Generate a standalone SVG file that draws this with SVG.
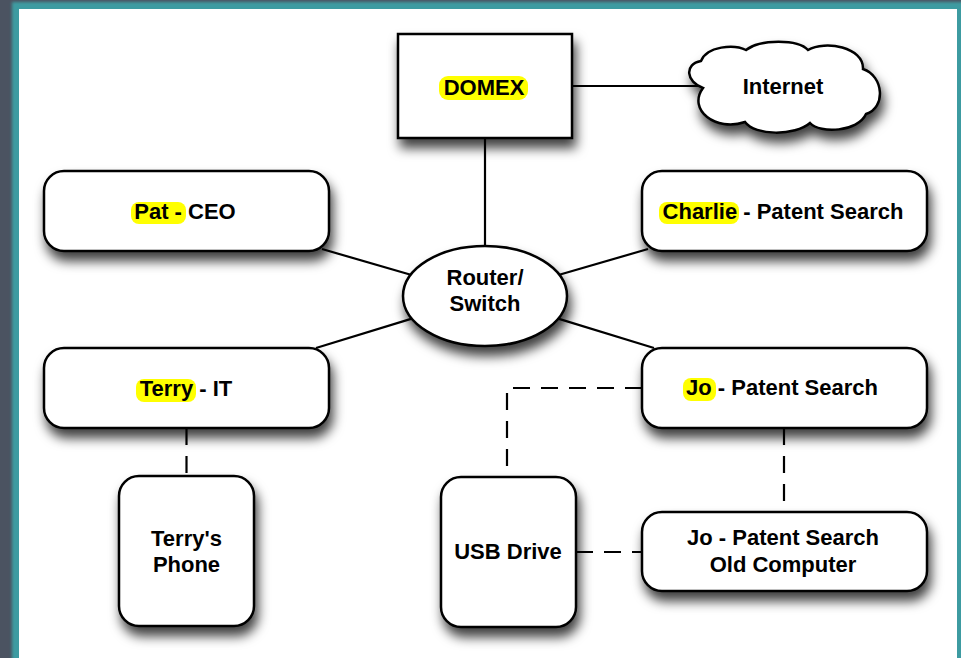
<svg xmlns="http://www.w3.org/2000/svg" width="961" height="658" viewBox="0 0 961 658">
  <defs>
    <filter id="shadow" x="-20%" y="-20%" width="140%" height="170%">
      <feDropShadow dx="3" dy="9" stdDeviation="6" flood-color="#000" flood-opacity="0.75"/>
    </filter>
    <filter id="glow" x="-5%" y="-5%" width="110%" height="110%">
      <feGaussianBlur stdDeviation="1.5"/>
    </filter>
    <style>
      .node { fill: #fff; stroke: #000; stroke-width: 2.5; filter: url(#shadow); }
      .mark { fill: #ffff00; }
      .label { font-family: "Liberation Sans", Arial, sans-serif; font-weight: bold; font-size: 22px; fill: #000; text-anchor: middle; }
      .link { stroke: #000; stroke-width: 2.2; fill: none; }
      .dash { stroke-dasharray: 17 11; }
    </style>
  </defs>

  <!-- page background and framed canvas -->
  <rect x="0" y="0" width="961" height="658" fill="#4b5361"/>
  <rect x="12" y="2" width="960" height="670" fill="#3d9ba1" filter="url(#glow)"/>
  <rect x="19" y="9" width="938" height="660" fill="#fff"/>

  <!-- connectors -->
  <g id="connectors">
    <line class="link" x1="485" y1="138" x2="485" y2="246"/>
    <line class="link" x1="572" y1="86" x2="700" y2="86"/>
    <line class="link" x1="322" y1="249" x2="410.7" y2="274.8"/>
    <line class="link" x1="648" y1="249" x2="559.3" y2="274.8"/>
    <line class="link" x1="316" y1="348" x2="411.8" y2="318.6"/>
    <line class="link" x1="654" y1="348" x2="558.2" y2="318.6"/>
    <line class="link dash" x1="186.5" y1="428" x2="186.5" y2="476"/>
    <line class="link dash" x1="784" y1="428" x2="784" y2="512"/>
    <path class="link dash" d="M 642 388 H 507 V 477"/>
    <line class="link dash" x1="576" y1="552" x2="642" y2="552"/>
  </g>

  <!-- DOMEX gateway -->
  <g id="domex">
    <rect class="node" x="398" y="34" width="174" height="104"/>
    <rect class="mark" x="439" y="76" width="89" height="24" rx="9"/>
    <text class="label" x="484" y="95">DOMEX</text>
  </g>

  <!-- Internet cloud -->
  <g id="internet">
    <path class="node" d="M 703 88 C 686 82 684 64 701 61 C 707 46 734 44 746 50 C 760 39 798 39 808 50 C 825 40 864 47 863 69 C 884 76 886 108 866 114 C 858 132 820 134 810 123 C 795 136 755 136 745 122 C 716 132 687 110 703 88 Z"/>
    <text class="label" x="783" y="94">Internet</text>
  </g>

  <!-- Router / Switch -->
  <g id="router">
    <ellipse class="node" cx="485" cy="296" rx="82" ry="50"/>
    <text class="label" x="485" y="285">Router/</text>
    <text class="label" x="485" y="311">Switch</text>
  </g>

  <g id="pat">
    <rect class="node" x="44" y="171" width="285" height="80" rx="20"/>
    <rect class="mark" x="131" y="202" width="55" height="22" rx="8"/>
    <text class="label" x="185" y="219">Pat - CEO</text>
  </g>

  <g id="charlie">
    <rect class="node" x="642" y="171" width="285" height="80" rx="20"/>
    <rect class="mark" x="659" y="202" width="80" height="22" rx="8"/>
    <text class="label" x="783" y="219">Charlie - Patent Search</text>
  </g>

  <g id="terry">
    <rect class="node" x="44" y="348" width="285" height="80" rx="20"/>
    <rect class="mark" x="136" y="379" width="60" height="23" rx="8"/>
    <text class="label" x="186" y="396">Terry - IT</text>
  </g>

  <g id="jo">
    <rect class="node" x="642" y="348" width="285" height="80" rx="20"/>
    <rect class="mark" x="683" y="378" width="33" height="23" rx="8"/>
    <text class="label" x="782" y="395">Jo - Patent Search</text>
  </g>

  <g id="terrys-phone">
    <rect class="node" x="119" y="476" width="135" height="150" rx="20"/>
    <text class="label" x="186.5" y="546">Terry's</text>
    <text class="label" x="186.5" y="572">Phone</text>
  </g>

  <g id="usb-drive">
    <rect class="node" x="441" y="477" width="135" height="150" rx="20"/>
    <text class="label" x="508" y="559">USB Drive</text>
  </g>

  <g id="jo-old-computer">
    <rect class="node" x="642" y="512" width="285" height="79" rx="20"/>
    <text class="label" x="783" y="545">Jo - Patent Search</text>
    <text class="label" x="783" y="572">Old Computer</text>
  </g>
</svg>
